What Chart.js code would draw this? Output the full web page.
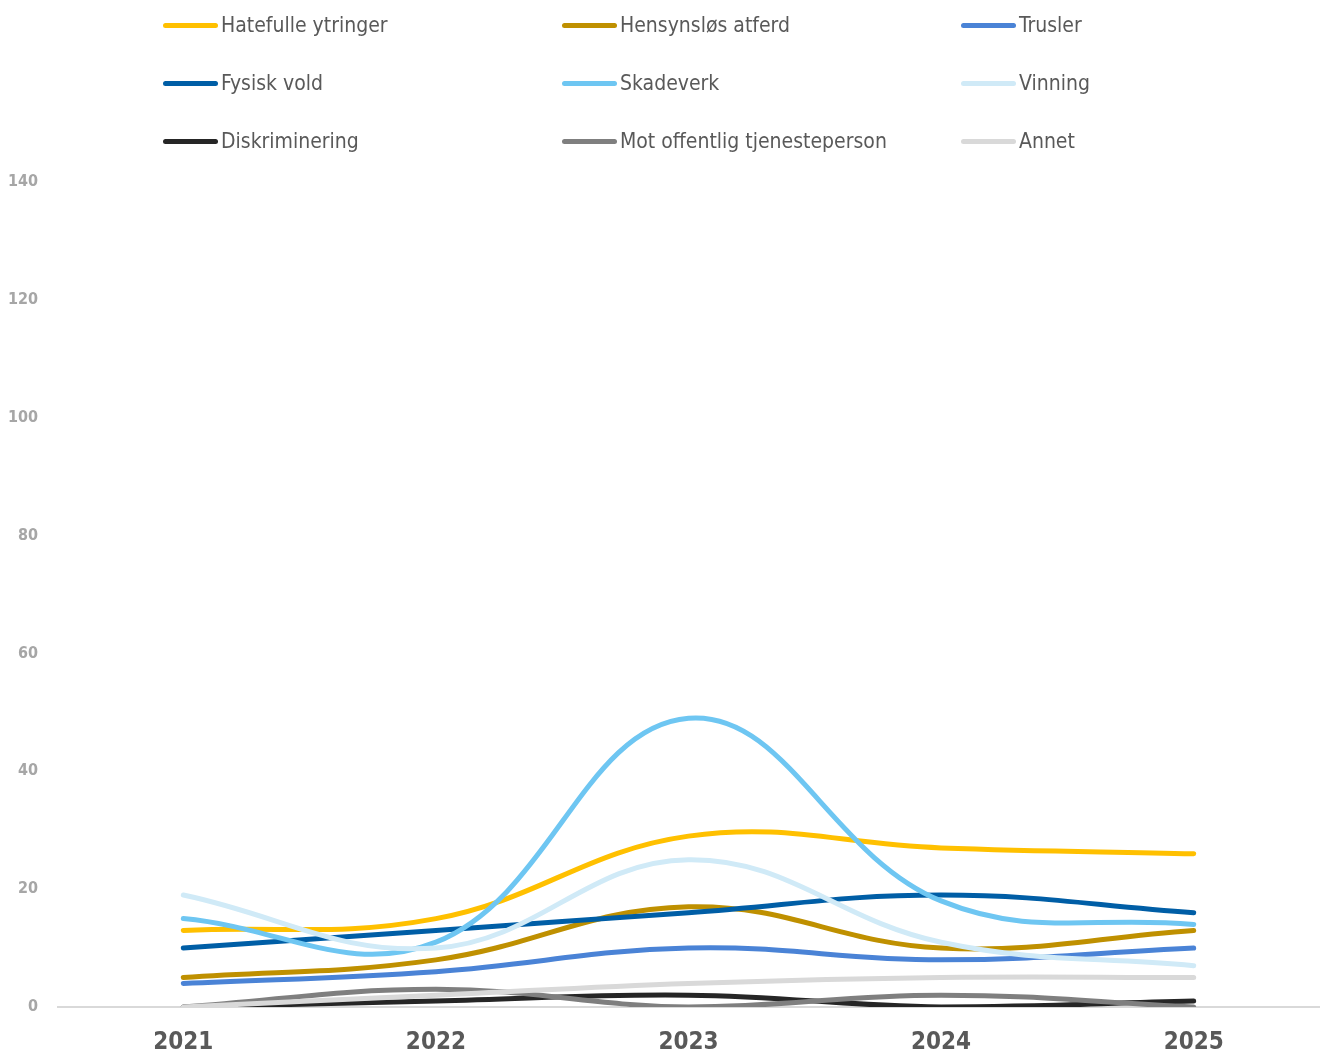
<!DOCTYPE html>
<html>
<head>
<meta charset="utf-8">
<script src="https://cdn.jsdelivr.net/npm/chart.js@4.4.1/dist/chart.umd.min.js"></script>
<style>
  html, body { margin: 0; padding: 0; background: #fff; overflow: hidden; }
  #wrap { position: relative; width: 1328px; height: 1057px; }
  #legend { position: absolute; left: 163px; top: 9px; width: 1200px; display: grid;
    grid-template-columns: 399px 399px 399px; grid-auto-rows: 58px;
    font-family: "DejaVu Sans Condensed", "Roboto", sans-serif;
    font-size: 21px; color: #595959; }
  .item { display: flex; align-items: center; height: 32px; }
  .sw { width: 55px; height: 5px; border-radius: 3px; margin-right: 3px; }
  canvas { display: block; }
</style>
</head>
<body>
<div id="wrap">
  <div id="legend"></div>
  <canvas id="c" width="1328" height="1057"></canvas>
</div>
<script>
const years = ["2021", "2022", "2023", "2024", "2025"];
const seriesNames = ["Hatefulle ytringer", "Hensynsløs atferd", "Trusler", "Fysisk vold", "Skadeverk", "Vinning", "Diskriminering", "Mot offentlig tjenesteperson", "Annet"];
const hatefulle = [13, 15, 29, 27, 26];
const hensynslos = [5, 8, 17, 10, 13];
const trusler = [4, 6, 10, 8, 10];
const fysiskVold = [10, 13, 16, 19, 16];
const skadeverk = [15, 11, 49, 18, 14];
const vinning = [19, 10, 25, 11, 7];
const diskriminering = [0, 1, 2, 0, 1];
const motOffentlig = [0, 3, 0, 2, 0];
const annet = [0, 2, 4, 5, 5];
const yTicks = [0, 20, 40, 60, 80, 100, 120, 140];

const colors = ["#FFC000", "#BF9000", "#4A83D6", "#005EA6", "#6EC6F2", "#D0EAF7", "#262626", "#7F7F7F", "#D9D9D9"];
const values = [hatefulle, hensynslos, trusler, fysiskVold, skadeverk, vinning, diskriminering, motOffentlig, annet];

const datasets = seriesNames.map((n, i) => ({
  label: n,
  data: values[i],
  borderColor: colors[i],
  backgroundColor: colors[i],
  borderWidth: 5,
  pointRadius: 0,
  pointHoverRadius: 0,
  tension: 0.4,
  fill: false,
  borderCapStyle: 'round',
  borderJoinStyle: 'round',
  order: 9 - i
}));

const fontFam = '"DejaVu Sans Condensed", "Roboto", sans-serif';

new Chart(document.getElementById('c'), {
  type: 'line',
  data: { labels: years, datasets },
  options: {
    responsive: false,
    animation: false,
    layout: { padding: { top: 182, right: 8, bottom: 0, left: 0 } },
    plugins: { legend: { display: false }, tooltip: { enabled: false } },
    scales: {
      x: {
        offset: true,
        grid: { display: false, drawTicks: false, tickLength: 0 },
        border: { display: false },
        afterFit: (axis) => { axis.height = 50; },
        ticks: { color: '#595959', font: { family: fontFam, size: 24, weight: 'bold', lineHeight: 1.2 }, padding: 21 }
      },
      y: {
        min: 0, max: 140,
        afterBuildTicks: (axis) => { axis.ticks = yTicks.map(v => ({ value: v })); },
        afterFit: (axis) => { axis.width = 57; },
        grid: { color: (ctx) => ctx.tick && ctx.tick.value === 0 ? '#D9D9D9' : 'rgba(0,0,0,0)', lineWidth: 2, drawTicks: false },
        border: { display: false },
        ticks: { color: '#A6A6A6', font: { family: fontFam, size: 16, weight: 'bold' }, padding: 19 }
      }
    }
  }
});

const leg = document.getElementById('legend');
seriesNames.forEach((n, i) => {
  const d = document.createElement('div');
  d.className = 'item';
  d.innerHTML = '<span class="sw" style="background:' + colors[i] + '"></span><span></span>';
  d.lastChild.textContent = n;
  leg.appendChild(d);
});
</script>
</body>
</html>
